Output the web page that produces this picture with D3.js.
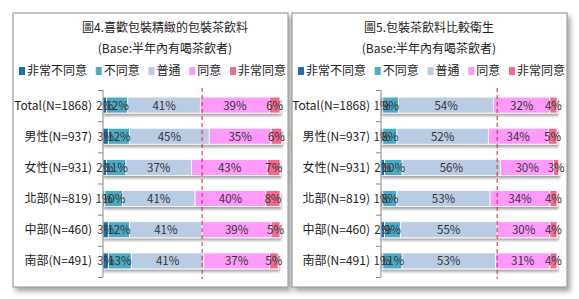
<!DOCTYPE html>
<html><head><meta charset="utf-8">
<script src="https://cdn.jsdelivr.net/npm/d3@7"></script>
<style>
body{margin:0;background:#fff;}
text{font-family:"Noto Sans CJK TC","Noto Sans",sans-serif;}
</style></head>
<body><svg id="c" width="579" height="299"></svg>
<script>
const categories = ["Total(N=1868)","男性(N=937)","女性(N=931)","北部(N=819)","中部(N=460)","南部(N=491)"];
const seriesNames = ["非常不同意","不同意","普通","同意","非常同意"];
const colors = ["#1c6cb6","#4babc5","#b9cce4","#fe9afc","#ef6b90"];
const chart1Title = "圖4.喜歡包裝精緻的包裝茶飲料";
const chart2Title = "圖5.包裝茶飲料比較衛生";
const subtitle = "(Base:半年內有喝茶飲者)";
const chart1Values = [
  [2,12,41,39,6],
  [3,12,45,35,6],
  [2,11,37,43,7],
  [1,10,41,40,8],
  [3,12,41,39,5],
  [3,13,41,37,5]
];
const chart2Values = [
  [1,9,54,32,4],
  [1,8,52,34,5],
  [2,10,56,30,3],
  [1,8,53,34,4],
  [2,9,55,30,4],
  [1,11,53,31,4]
];
const refLines = [56, 66];

const svg = d3.select("#c");
const defs = svg.append("defs");
const f = defs.append("filter").attr("id","pshadow").attr("x","-5%").attr("y","-5%").attr("width","115%").attr("height","115%");
f.append("feDropShadow").attr("dx",3).attr("dy",4).attr("stdDeviation",2.5).attr("flood-color","#000").attr("flood-opacity",0.35);
const fb = defs.append("filter").attr("id","bshadow").attr("x","-5%").attr("y","-30%").attr("width","115%").attr("height","180%");
fb.append("feDropShadow").attr("dx",1).attr("dy",2.5).attr("stdDeviation",1.2).attr("flood-color","#000").attr("flood-opacity",0.35);

const panels = [
  {x:13, y:13, w:275, h:274, title:chart1Title, values:chart1Values, ref:refLines[0], axisX:103, endX:280, titleX:165},
  {x:292, y:13, w:275, h:274, title:chart2Title, values:chart2Values, ref:refLines[1], axisX:381, endX:557, titleX:429}
];

// watermark
const wm = svg.append("g").attr("opacity",0.18);
wm.append("text").attr("x",300).attr("y",150).attr("text-anchor","middle")
  .attr("font-size",30).attr("font-weight","bold").attr("fill","#e0a050").text("eolembrain");
wm.append("text").attr("x",300).attr("y",182).attr("text-anchor","middle")
  .attr("font-size",15).attr("fill","#7090b0").attr("letter-spacing",8).text("東方快線網路市調");

panels.forEach(p => {
  const g = svg.append("g");
  g.append("rect").attr("x",p.x).attr("y",p.y).attr("width",p.w).attr("height",p.h)
    .attr("fill","#fff").attr("stroke","#8c8c8c").attr("stroke-width",1).attr("filter","url(#pshadow)");
  g.append("text").attr("x",p.titleX).attr("y",32).attr("text-anchor","middle")
    .attr("font-size",12).attr("fill","#222").text(p.title);
  g.append("text").attr("x",p.titleX).attr("y",53).attr("text-anchor","middle")
    .attr("font-size",12).attr("fill","#222").text(subtitle);

  // legend
  const lg = g.append("g");
  let lx = p.x + 6;
  const items = [];
  seriesNames.forEach((s,i)=>{
    const it = lg.append("g");
    it.append("rect").attr("x",0).attr("y",-8).attr("width",6).attr("height",8).attr("fill",colors[i]);
    const t = it.append("text").attr("x",8).attr("y",0).attr("font-size",12).attr("fill","#222").text(s);
    items.push({it, w: 8 + t.node().getComputedTextLength()});
  });
  const totalW = d3.sum(items, d=>d.w);
  const gap = (p.w - 8 - totalW) / (items.length - 1);
  items.forEach(d=>{ d.it.attr("transform",`translate(${lx},75)`); lx += d.w + gap; });

  const y = d3.scaleBand().domain(categories).range([90,277]).paddingInner(0.52).paddingOuter(0.26);
  const x = d3.scaleLinear().domain([0,100]).range([p.axisX, p.endX]);

  const rows = g.append("g");
  p.values.forEach((vals,r)=>{
    const cum = d3.cumsum(vals);
    const row = rows.append("g").attr("filter","url(#bshadow)");
    vals.forEach((v,i)=>{
      const x0 = x(cum[i]-v), x1 = x(cum[i]);
      row.append("rect").attr("x",x0).attr("y",y(categories[r])-1).attr("width",x1-x0).attr("height",y.bandwidth()+1)
        .attr("fill",colors[i]).attr("stroke","#fff").attr("stroke-width",0.8);
    });
  });
  // labels
  p.values.forEach((vals,r)=>{
    const cum = d3.cumsum(vals);
    vals.forEach((v,i)=>{
      const xc = x(cum[i]-v/2);
      g.append("text").attr("x",xc).attr("y",y(categories[r])+y.bandwidth()/2+4)
        .attr("text-anchor","middle").attr("font-size",11.5).attr("fill","#333").text(v+"%");
    });
  });

  // axis
  const axis = d3.axisLeft(d3.scalePoint().domain(d3.range(7)).range([90,277])).tickSize(5).tickFormat("");
  const ag = g.append("g").attr("transform",`translate(${p.axisX},0)`).call(axis);
  ag.select(".domain").attr("stroke","#888").attr("d",`M0,90V277`);
  ag.selectAll(".tick line").attr("stroke","#888");
  categories.forEach(c=>{
    g.append("text").attr("x",p.axisX-11).attr("y",y(c)+y.bandwidth()/2+4).attr("text-anchor","end")
      .attr("font-size",12).attr("fill","#222").text(c);
  });

  // reference line
  g.append("line").attr("x1",x(p.ref)).attr("x2",x(p.ref)).attr("y1",88).attr("y2",279)
    .attr("stroke","#e0202a").attr("stroke-width",1).attr("stroke-dasharray","4,3");
});
</script></body></html>
